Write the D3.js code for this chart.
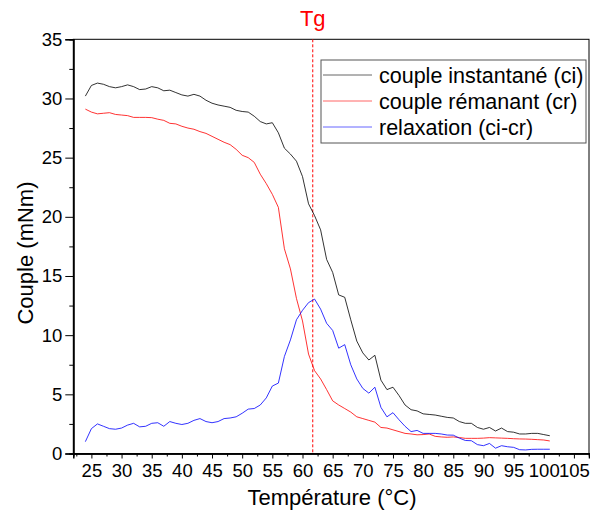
<!DOCTYPE html>
<html>
<head>
<meta charset="utf-8">
<script src="https://cdn.jsdelivr.net/npm/d3@7"></script>
<style>
  body { margin: 0; background: #fff; }
  text { font-family: "Liberation Sans", Arial, sans-serif; }
</style>
</head>
<body>
<div id="chart"></div>
<script>
// temperatures (°C), one reading per degree
var temps = d3.range(24, 102);

// couple instantané (ci), mNm
var ci = [30.2, 31.1, 31.3, 31.2, 31.0, 30.9, 31.0, 31.15, 31.0, 30.75,
  30.8, 31.0, 30.9, 30.65, 30.7, 30.5, 30.3, 30.2, 30.35, 30.2,
  29.85, 29.6, 29.45, 29.35, 29.25, 29.0, 28.9, 28.85, 28.5, 28.05,
  27.85, 27.95, 27.1, 25.8, 25.3, 24.7, 23.4, 21.1, 20.1, 18.9,
  16.4, 15.3, 13.4, 13.2, 11.3, 9.5, 8.5, 7.9, 8.3, 6.2,
  5.4, 5.6, 4.9, 4.1, 3.7, 3.6, 3.35, 3.3, 3.25, 3.15,
  3.05, 3.0, 2.7, 2.55, 2.55, 2.2, 2.05, 2.2, 1.9, 2.15,
  1.85, 1.8, 1.65, 1.65, 1.7, 1.7, 1.6, 1.5];

// couple rémanant (cr), mNm
var cr = [29.1, 28.85, 28.7, 28.75, 28.8, 28.65, 28.6, 28.55, 28.4, 28.4,
  28.4, 28.38, 28.25, 28.15, 27.9, 27.85, 27.65, 27.5, 27.4, 27.2,
  27.05, 26.8, 26.55, 26.3, 26.1, 25.7, 25.2, 25.0, 24.6, 23.6,
  22.8, 21.9, 20.8, 17.3, 15.6, 13.1, 11.2, 8.4, 7.0, 6.3,
  5.4, 4.45, 4.1, 3.8, 3.5, 3.1, 2.95, 2.8, 2.65, 2.2,
  2.15, 2.0, 1.85, 1.7, 1.65, 1.58, 1.6, 1.65, 1.45, 1.4,
  1.37, 1.4, 1.35, 1.28, 1.28, 1.28, 1.3, 1.34, 1.32, 1.3,
  1.28, 1.25, 1.23, 1.22, 1.2, 1.17, 1.14, 1.06];

// relaxation (ci-cr), mNm
var relax = [1.0, 2.1, 2.5, 2.3, 2.1, 2.05, 2.15, 2.4, 2.55, 2.25,
  2.3, 2.55, 2.6, 2.3, 2.7, 2.55, 2.45, 2.55, 2.8, 2.95,
  2.7, 2.6, 2.7, 2.95, 3.0, 3.1, 3.4, 3.75, 3.8, 4.1,
  4.7, 5.7, 5.95, 8.2, 9.6, 11.3, 12.1, 12.75, 13.05, 12.2,
  11.0, 10.4, 8.9, 9.2, 7.5, 6.3, 5.5, 5.1, 5.6, 3.9,
  3.1, 3.45, 2.85, 2.3, 1.85, 1.95, 1.7, 1.7, 1.7, 1.65,
  1.56, 1.55, 1.3, 1.1, 1.08, 0.75, 0.66, 0.85, 0.45, 0.66,
  0.57, 0.52, 0.32, 0.3, 0.35, 0.36, 0.36, 0.36];

var tg = 61.7;

var seriesNames = ["couple instantané (ci)", "couple rémanant (cr)", "relaxation (ci-cr)"];
var seriesColors = ["#000000", "#ff0000", "#0000ff"];
var seriesValues = [ci, cr, relax];

var xMajor = d3.range(25, 106, 5);
var xMinor = d3.range(22.5, 108, 5);
var yMajor = d3.range(0, 36, 5);
var yMinor = d3.range(2.5, 35, 5);

function drawChart() {
  var width = 590, height = 522;
  var plotLeft = 73.3, plotRight = 589, plotTop = 39.3, plotBottom = 453.5;

  var svg = d3.select("#chart").append("svg")
    .attr("width", width)
    .attr("height", height);

  var x = d3.scaleLinear().domain([22, 107.5]).range([plotLeft, plotRight]);
  var y = d3.scaleLinear().domain([0, 35]).range([plotBottom, plotTop]);

  // frame
  svg.append("rect")
    .attr("x", plotLeft).attr("y", plotTop)
    .attr("width", plotRight - plotLeft).attr("height", plotBottom - plotTop)
    .attr("fill", "none").attr("stroke", "#000").attr("stroke-width", 1);

  // x axis
  var xAxis = svg.append("g").attr("transform", "translate(0," + plotBottom + ")");
  xAxis.call(d3.axisBottom(x).tickValues(xMajor).tickSize(5).tickFormat(d3.format("d")));
  xAxis.append("g").call(d3.axisBottom(x).tickValues(xMinor).tickSize(3).tickFormat(""));
  xAxis.selectAll(".domain").attr("stroke-width", 1.5);
  xAxis.selectAll("text").attr("font-size", 18.5).attr("fill", "#000")
    .attr("font-family", "Liberation Sans, Arial, sans-serif").attr("y", 10).attr("dy", "0.75em");

  // y axis
  var yAxis = svg.append("g").attr("transform", "translate(" + plotLeft + ",0)");
  yAxis.call(d3.axisLeft(y).tickValues(yMajor).tickSize(8).tickFormat(d3.format("d")));
  yAxis.append("g").call(d3.axisLeft(y).tickValues(yMinor).tickSize(4).tickFormat(""));
  yAxis.selectAll(".domain").attr("stroke-width", 1.5);
  yAxis.selectAll("text").attr("font-size", 18.5).attr("fill", "#000")
    .attr("font-family", "Liberation Sans, Arial, sans-serif").attr("x", -11);

  // axis titles
  svg.append("text")
    .attr("x", 332).attr("y", 505)
    .attr("text-anchor", "middle").attr("font-size", 22)
    .text("Température (°C)");
  svg.append("text")
    .attr("transform", "translate(33," + 253 + ") rotate(-90)")
    .attr("text-anchor", "middle").attr("font-size", 22)
    .text("Couple (mNm)");

  // Tg marker
  svg.append("line")
    .attr("x1", x(tg)).attr("x2", x(tg))
    .attr("y1", plotTop).attr("y2", plotBottom)
    .attr("stroke", "#ff0000").attr("stroke-width", 1)
    .attr("stroke-dasharray", "3,2");
  svg.append("text")
    .attr("x", x(tg)).attr("y", 26)
    .attr("text-anchor", "middle").attr("font-size", 22)
    .attr("fill", "#ff0000")
    .text("Tg");

  // curves
  var line = d3.line()
    .x(function(d) { return x(d[0]); })
    .y(function(d) { return y(d[1]); });

  seriesValues.forEach(function(vals, i) {
    svg.append("path")
      .datum(temps.map(function(t, j) { return [t, vals[j]]; }))
      .attr("fill", "none")
      .attr("stroke", seriesColors[i])
      .attr("stroke-width", 1)
      .attr("stroke-opacity", 0.8)
      .attr("d", line);
  });

  // legend
  var legend = svg.append("g").attr("transform", "translate(321,60)");
  legend.append("rect")
    .attr("x", 0).attr("y", 0).attr("width", 265).attr("height", 83)
    .attr("fill", "#fff").attr("stroke", "#555").attr("stroke-width", 1);
  seriesNames.forEach(function(name, i) {
    var cy = 15 + i * 26;
    legend.append("line")
      .attr("x1", 2).attr("x2", 51).attr("y1", cy).attr("y2", cy)
      .attr("stroke", seriesColors[i]).attr("stroke-opacity", 0.6);
    legend.append("text")
      .attr("x", 58).attr("y", cy).attr("dy", "0.35em")
      .attr("font-size", 21.5)
      .text(name);
  });
}

drawChart();
</script>
</body>
</html>
